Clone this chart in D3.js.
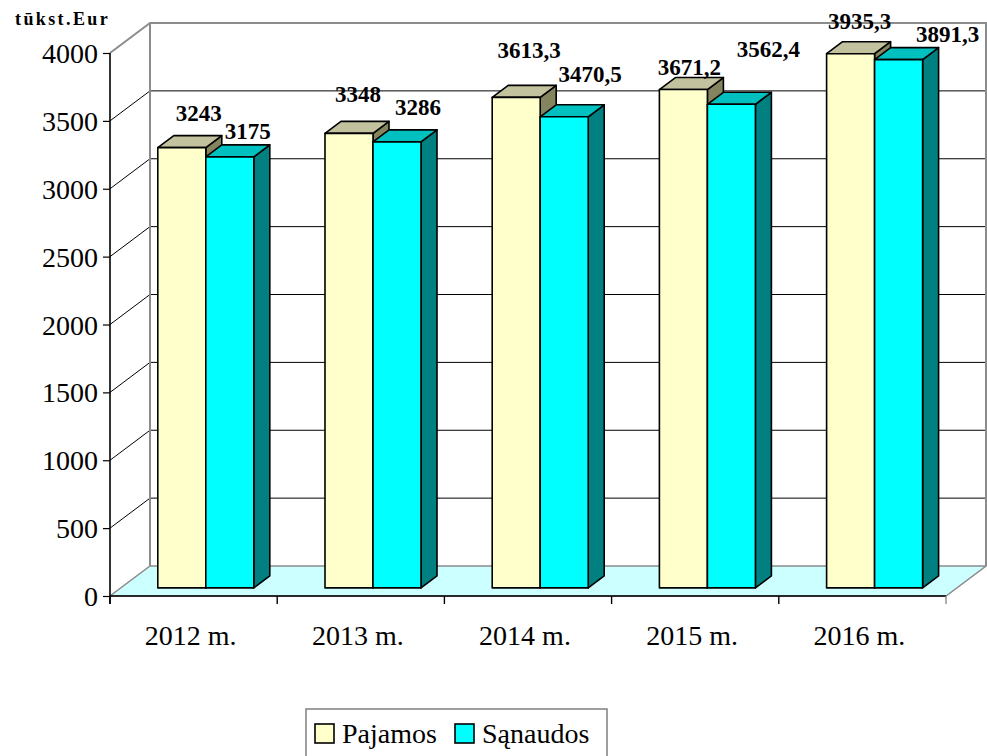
<!DOCTYPE html>
<html>
<head>
<meta charset="utf-8">
<script src="https://cdn.jsdelivr.net/npm/d3@7"></script>
<style>
  html, body { margin: 0; padding: 0; background: #fff; }
  svg { display: block; }
</style>
</head>
<body>
<svg id="chart" width="987" height="756"></svg>
<script>
// ---- data ----
const categories = ['2012 m.', '2013 m.', '2014 m.', '2015 m.', '2016 m.'];
const seriesNames = ['Pajamos', 'Sąnaudos'];
const pajamos = [3243, 3348, 3613.3, 3671.2, 3935.3];
const sanaudos = [3175, 3286, 3470.5, 3562.4, 3891.3];
const pajamosLabels = ['3243', '3348', '3613,3', '3671,2', '3935,3'];
const sanaudosLabels = ['3175', '3286', '3470,5', '3562,4', '3891,3'];
const yTicks = [0, 500, 1000, 1500, 2000, 2500, 3000, 3500, 4000];
const yTitle = 'tūkst.Eur';

// ---- layout (label nudges relative to the bar's front top centre) ----
const pajamosNudge = [[17, -27], [9, -31], [13, -39], [6, -15], [9, -25]];
const sanaudosNudge = [[18, -18], [21, -27], [26, -35], [37, -47], [49, -18]];

const svg = d3.select('#chart');
const serif = '"Liberation Serif", "Times New Roman", Times, serif';

const DX = 40, DY = -30;           // depth vector of the 3D box
const F0 = 0.27, FD = 0.4;         // bar depth position and thickness (fractions)

const x = d3.scaleBand().domain(categories).range([110, 946]).padding(0);
const xs = d3.scaleBand().domain(seriesNames).range([37, 133]).padding(0);
const y = d3.scaleLinear().domain([0, 4000]).range([596, 53]);

const x0 = x.range()[0], x1 = x.range()[1];
const yBase = y(0), yTop = y(4000);

// ---- back wall ----
svg.append('rect')
  .attr('x', x0 + DX).attr('y', yTop + DY)
  .attr('width', x1 - x0).attr('height', yBase - yTop)
  .attr('fill', '#fff');

// ---- floor ----
svg.append('polygon')
  .attr('points', [[x0, yBase], [x1, yBase], [x1 + DX, yBase + DY], [x0 + DX, yBase + DY]].map(p => p.join(',')).join(' '))
  .attr('fill', '#ccffff').attr('stroke', '#8c8c8c').attr('stroke-width', 1.5);

// ---- gridlines (back wall + side wall) ----
const grid = svg.append('g');
yTicks.filter(t => t > 0 && t < 4000).forEach(t => {
  grid.append('line')
    .attr('x1', x0 + DX).attr('x2', x1 + DX)
    .attr('y1', y(t) + DY).attr('y2', y(t) + DY)
    .attr('stroke', '#000').attr('stroke-width', 1);
  grid.append('line')
    .attr('x1', x0).attr('x2', x0 + DX)
    .attr('y1', y(t)).attr('y2', y(t) + DY)
    .attr('stroke', '#000').attr('stroke-width', 1);
});
// wall borders (grey)
svg.append('path')
  .attr('d', `M${x0},${yTop} L${x0 + DX},${yTop + DY} L${x1 + DX},${yTop + DY} L${x1 + DX},${yBase + DY}`)
  .attr('fill', 'none').attr('stroke', '#8c8c8c').attr('stroke-width', 2);
svg.append('line')
  .attr('x1', x0 + DX).attr('x2', x0 + DX)
  .attr('y1', yTop + DY).attr('y2', yBase + DY)
  .attr('stroke', '#8c8c8c').attr('stroke-width', 2);

// ---- bars ----
const colors = {
  'Pajamos': { front: '#ffffcc', top: '#c2c29e', side: '#84845e' },
  'Sąnaudos': { front: '#00ffff', top: '#00c0c0', side: '#008080' }
};
const seriesData = [
  { name: 'Pajamos', values: pajamos, labels: pajamosLabels, nudge: pajamosNudge },
  { name: 'Sąnaudos', values: sanaudos, labels: sanaudosLabels, nudge: sanaudosNudge }
];

const bars = svg.append('g');
const pts = a => a.map(p => p.join(',')).join(' ');
categories.forEach((c, i) => {
  seriesData.forEach(s => {
    const v = s.values[i];
    const L = x(c) + xs(s.name) + F0 * DX;
    const R = L + xs.bandwidth();
    const T = y(v) + F0 * DY;
    const B = y(0) + F0 * DY;
    const ddx = FD * DX, ddy = FD * DY;
    const col = colors[s.name];
    const g = bars.append('g').attr('stroke', '#000').attr('stroke-width', 1.6).attr('stroke-linejoin', 'round');
    g.append('polygon').attr('points', pts([[R, T], [R + ddx, T + ddy], [R + ddx, B + ddy], [R, B]])).attr('fill', col.side);
    g.append('polygon').attr('points', pts([[L, T], [L + ddx, T + ddy], [R + ddx, T + ddy], [R, T]])).attr('fill', col.top);
    g.append('rect').attr('x', L).attr('y', T).attr('width', R - L).attr('height', B - T).attr('fill', col.front);
  });
});

// ---- data labels ----
const labels = svg.append('g')
  .attr('font-family', serif).attr('font-weight', 'bold').attr('font-size', 23)
  .attr('text-anchor', 'middle').attr('fill', '#000');
categories.forEach((c, i) => {
  seriesData.forEach(s => {
    const v = s.values[i];
    const cx = x(c) + xs(s.name) + xs.bandwidth() / 2 + F0 * DX;
    const ty = y(v) + F0 * DY;
    labels.append('text')
      .attr('x', cx + s.nudge[i][0]).attr('y', ty + s.nudge[i][1])
      .text(s.labels[i]);
  });
});

// ---- y axis ----
const yAxis = svg.append('g')
  .attr('transform', `translate(${x0},0)`)
  .call(d3.axisLeft(y).tickValues(yTicks).tickSize(7).tickPadding(5).tickFormat(d3.format('d')));
yAxis.select('.domain').attr('stroke', '#000').attr('stroke-width', 1.6)
  .attr('d', `M0,${yTop}V${yBase + 8}`);
yAxis.selectAll('.tick line').attr('stroke', '#000').attr('stroke-width', 1.2);
yAxis.selectAll('.tick text')
  .attr('font-family', serif).attr('font-size', 28).attr('fill', '#000')
  .attr('dy', '0.34em');

// ---- x axis ----
svg.append('line')
  .attr('x1', x0).attr('x2', x1).attr('y1', yBase).attr('y2', yBase)
  .attr('stroke', '#000').attr('stroke-width', 1.6);
const xt = svg.append('g');
categories.concat(['__end']).forEach((c, i) => {
  const xx = i < categories.length ? x(c) : x1;
  xt.append('line').attr('x1', xx).attr('x2', xx).attr('y1', yBase).attr('y2', yBase + 8)
    .attr('stroke', i === categories.length ? '#8c8c8c' : '#000').attr('stroke-width', 1.4);
});
svg.append('g')
  .attr('font-family', serif).attr('font-size', 28).attr('text-anchor', 'middle').attr('fill', '#000')
  .selectAll('text').data(categories).join('text')
  .attr('x', d => x(d) + x.bandwidth() / 2 - 3)
  .attr('y', 645)
  .text(d => d);

// ---- y title ----
svg.append('text')
  .attr('x', 15).attr('y', 25)
  .attr('font-family', serif).attr('font-weight', 'bold').attr('font-size', 18)
  .attr('letter-spacing', 2.4)
  .text(yTitle);

// ---- legend ----
const legend = svg.append('g');
legend.append('rect')
  .attr('x', 306).attr('y', 709).attr('width', 301).attr('height', 70)
  .attr('fill', '#fff').attr('stroke', '#7f7f7f').attr('stroke-width', 1.5);
const legendX = d3.scaleOrdinal().domain(seriesNames).range([315, 455]);
seriesNames.forEach(n => {
  legend.append('rect')
    .attr('x', legendX(n)).attr('y', 724).attr('width', 19).attr('height', 19)
    .attr('fill', colors[n].front).attr('stroke', '#000').attr('stroke-width', 1.6);
  legend.append('text')
    .attr('x', legendX(n) + 27).attr('y', 743)
    .attr('font-family', serif).attr('font-size', 28).attr('fill', '#000')
    .text(n);
});
</script>
</body>
</html>
